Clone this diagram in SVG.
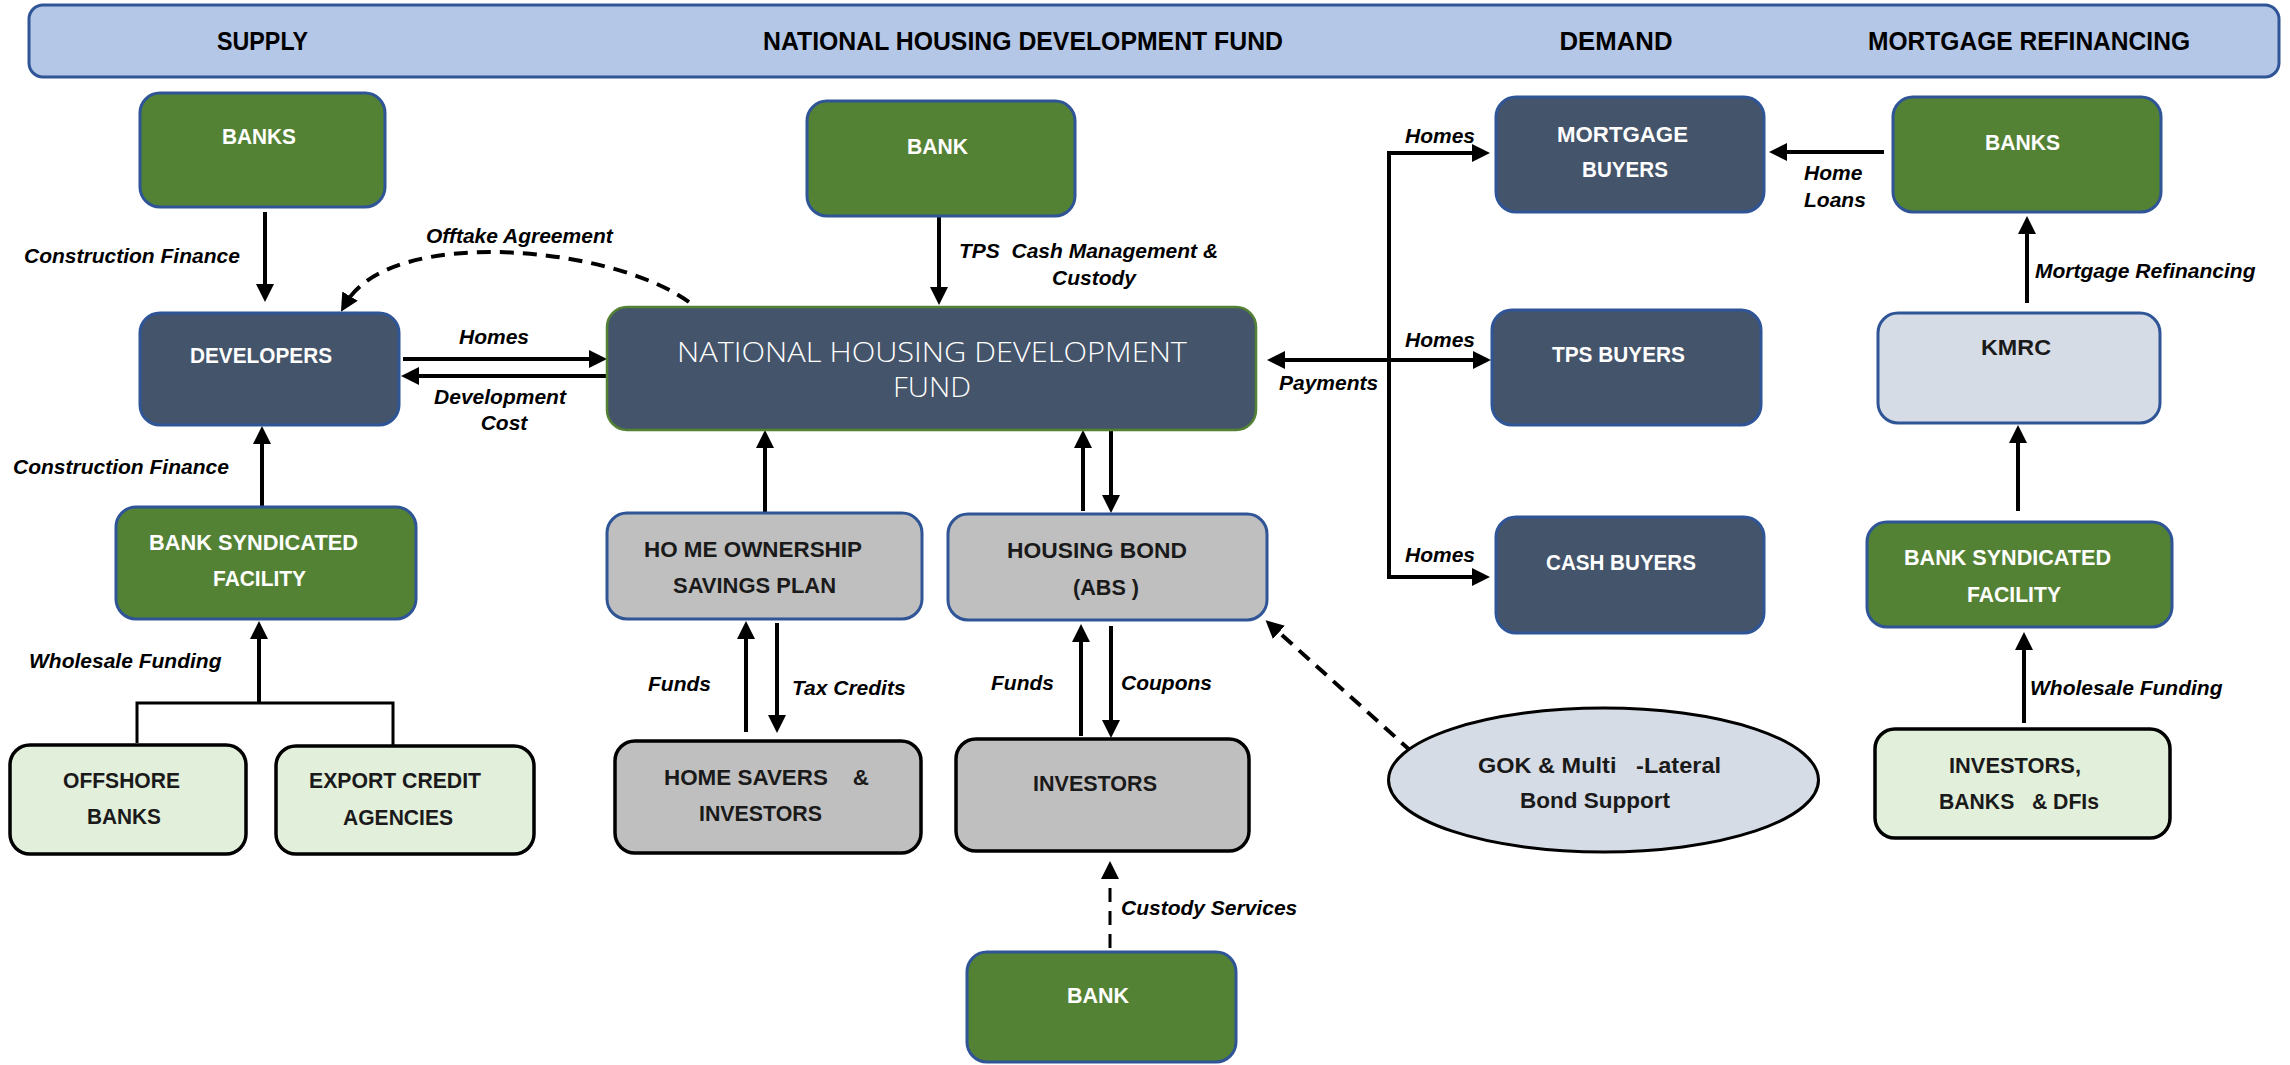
<svg xmlns="http://www.w3.org/2000/svg" width="2290" height="1065" viewBox="0 0 2290 1065">
  <defs>
    <style>
      .green { fill: #548235; stroke: #2F5597; stroke-width: 3; }
      .slate { fill: #44546A; stroke: #2F5597; stroke-width: 3; }
      .grey  { fill: #BFBFBF; stroke: #2F5597; stroke-width: 3; }
      .greyk { fill: #BFBFBF; stroke: #000; stroke-width: 3.5; }
      .mint  { fill: #E2EFDA; stroke: #000; stroke-width: 3.5; }
      .pale  { fill: #D6DCE5; stroke: #2F5597; stroke-width: 3; }
      .nt  { font-family: 'Liberation Sans', Arial, sans-serif; font-weight: 700; font-size: 22px; text-anchor: middle; white-space: pre; }
      .hd  { font-size: 25px; fill: #000; }
      .w   { fill: #FFFFFF; }
      .d   { fill: #1A1A1A; }
      .big { font-family: 'Open Sans', 'Liberation Sans', sans-serif; font-weight: 300; font-size: 28px; fill: #FFFFFF; text-anchor: middle; }
      .lbl { font-family: 'Liberation Sans', Arial, sans-serif; font-weight: 700; font-style: italic; font-size: 21px; fill: #000; white-space: pre; }
      .cn  { fill: none; stroke: #000; stroke-width: 4; }
      .thin { stroke-width: 3; }
      .dash { stroke-dasharray: 14 9; }
    </style>
    <marker id="ah" markerUnits="userSpaceOnUse" markerWidth="20" markerHeight="20" refX="8" refY="9" orient="auto-start-reverse">
      <path d="M0,0 L18,9 L0,18 Z" fill="#000"/>
    </marker>
  </defs>

  <!-- column header band -->
  <g id="header">
    <rect x="29" y="5" width="2250" height="72" rx="14" fill="#B4C7E7" stroke="#2F5597" stroke-width="3"/>
    <text class="nt hd" x="262.5" y="50" textLength="91" lengthAdjust="spacingAndGlyphs">SUPPLY</text>
    <text class="nt hd" x="1023" y="50" textLength="520" lengthAdjust="spacingAndGlyphs">NATIONAL HOUSING DEVELOPMENT FUND</text>
    <text class="nt hd" x="1616" y="50" textLength="113" lengthAdjust="spacingAndGlyphs">DEMAND</text>
    <text class="nt hd" x="2029" y="50" textLength="322" lengthAdjust="spacingAndGlyphs">MORTGAGE REFINANCING</text>
  </g>

  <!-- connectors -->
  <g id="connectors">
    <!-- supply side -->
    <path class="cn" d="M265,212 V292" marker-end="url(#ah)"/>
    <path class="cn" d="M262,507 V436" marker-end="url(#ah)"/>
    <path class="cn thin" d="M137,743 V703 H393 V745"/>
    <path class="cn" d="M259,703 V631" marker-end="url(#ah)"/>
    <path class="cn" d="M403,359 H597" marker-end="url(#ah)"/>
    <path class="cn" d="M607,376 H411" marker-end="url(#ah)"/>
    <path class="cn dash" d="M689,302 C610,245 391,226 346,303" marker-end="url(#ah)"/>
    <!-- fund -->
    <path class="cn" d="M939,216 V295" marker-end="url(#ah)"/>
    <path class="cn" d="M765,513 V440" marker-end="url(#ah)"/>
    <path class="cn" d="M1083,511 V440" marker-end="url(#ah)"/>
    <path class="cn" d="M1111,430 V503" marker-end="url(#ah)"/>
    <path class="cn" d="M746,732 V631" marker-end="url(#ah)"/>
    <path class="cn" d="M777,623 V723" marker-end="url(#ah)"/>
    <path class="cn" d="M1081,736 V634" marker-end="url(#ah)"/>
    <path class="cn" d="M1111,626 V728" marker-end="url(#ah)"/>
    <path class="cn thin dash" d="M1110,948 V871" marker-end="url(#ah)"/>
    <path class="cn dash" d="M1412,752 L1273,627" marker-end="url(#ah)"/>
    <!-- demand -->
    <path class="cn" d="M1277,360 H1481" marker-start="url(#ah)" marker-end="url(#ah)"/>
    <path class="cn" d="M1389,153 V577"/>
    <path class="cn" d="M1387,153 H1480" marker-end="url(#ah)"/>
    <path class="cn" d="M1387,577 H1480" marker-end="url(#ah)"/>
    <!-- mortgage refinancing -->
    <path class="cn" d="M1884,152 H1779" marker-end="url(#ah)"/>
    <path class="cn" d="M2027,303 V226" marker-end="url(#ah)"/>
    <path class="cn" d="M2018,511 V435" marker-end="url(#ah)"/>
    <path class="cn" d="M2024,723 V642" marker-end="url(#ah)"/>

    <!-- connector labels -->
    <text class="lbl" x="24" y="263">Construction Finance</text>
    <text class="lbl" x="426" y="243">Offtake Agreement</text>
    <text class="lbl" x="459" y="344">Homes</text>
    <text class="lbl" x="500" y="404" text-anchor="middle">Development</text>
    <text class="lbl" x="504" y="430" text-anchor="middle">Cost</text>
    <text class="lbl" x="13" y="474">Construction Finance</text>
    <text class="lbl" x="29" y="668">Wholesale Funding</text>
    <text class="lbl" x="959" y="258">TPS  Cash Management &amp;</text>
    <text class="lbl" x="1052" y="285">Custody</text>
    <text class="lbl" x="1279" y="390">Payments</text>
    <text class="lbl" x="1405" y="143">Homes</text>
    <text class="lbl" x="1405" y="347">Homes</text>
    <text class="lbl" x="1405" y="562">Homes</text>
    <text class="lbl" x="1804" y="180">Home</text>
    <text class="lbl" x="1804" y="207">Loans</text>
    <text class="lbl" x="2035" y="278">Mortgage Refinancing</text>
    <text class="lbl" x="648" y="691">Funds</text>
    <text class="lbl" x="792" y="695">Tax Credits</text>
    <text class="lbl" x="991" y="690">Funds</text>
    <text class="lbl" x="1121" y="690">Coupons</text>
    <text class="lbl" x="1121" y="915">Custody Services</text>
    <text class="lbl" x="2030" y="695">Wholesale Funding</text>
  </g>

  <!-- supply -->
  <g id="banks-supply">
    <rect class="green" x="140" y="93" width="245" height="114" rx="20"/>
    <text class="nt w" x="259" y="144" textLength="74" lengthAdjust="spacingAndGlyphs">BANKS</text>
  </g>
  <g id="developers">
    <rect class="slate" x="140" y="313" width="259" height="112" rx="20"/>
    <text class="nt w" x="261" y="363" textLength="142" lengthAdjust="spacingAndGlyphs">DEVELOPERS</text>
  </g>
  <g id="bank-syndicated-supply">
    <rect class="green" x="116" y="507" width="300" height="112" rx="20"/>
    <text class="nt w" x="253.5" y="550" textLength="209" lengthAdjust="spacingAndGlyphs">BANK SYNDICATED</text>
    <text class="nt w" x="259.5" y="586" textLength="93" lengthAdjust="spacingAndGlyphs">FACILITY</text>
  </g>
  <g id="offshore-banks">
    <rect class="mint" x="10" y="745" width="236" height="109" rx="20"/>
    <text class="nt d" x="121.5" y="788" textLength="117" lengthAdjust="spacingAndGlyphs">OFFSHORE</text>
    <text class="nt d" x="124" y="824" textLength="74" lengthAdjust="spacingAndGlyphs">BANKS</text>
  </g>
  <g id="export-credit">
    <rect class="mint" x="276" y="746" width="258" height="108" rx="20"/>
    <text class="nt d" x="395" y="788" textLength="172" lengthAdjust="spacingAndGlyphs">EXPORT CREDIT</text>
    <text class="nt d" x="398" y="825" textLength="110" lengthAdjust="spacingAndGlyphs">AGENCIES</text>
  </g>

  <!-- fund -->
  <g id="bank-custodian">
    <rect class="green" x="807" y="101" width="268" height="115" rx="20"/>
    <text class="nt w" x="937.5" y="154" textLength="61" lengthAdjust="spacingAndGlyphs">BANK</text>
  </g>
  <g id="nhdf">
    <rect x="607" y="307" width="649" height="123" rx="20" fill="#44546A" stroke="#548235" stroke-width="2.5"/>
    <text class="big" x="932" y="362" textLength="510" lengthAdjust="spacingAndGlyphs">NATIONAL HOUSING DEVELOPMENT</text>
    <text class="big" x="932" y="397" textLength="78" lengthAdjust="spacingAndGlyphs">FUND</text>
  </g>
  <g id="savings-plan">
    <rect class="grey" x="607" y="513" width="315" height="106" rx="20"/>
    <text class="nt d" x="753" y="557" textLength="218" lengthAdjust="spacingAndGlyphs">HO ME OWNERSHIP</text>
    <text class="nt d" x="754.5" y="593" textLength="163" lengthAdjust="spacingAndGlyphs">SAVINGS PLAN</text>
  </g>
  <g id="housing-bond">
    <rect class="grey" x="948" y="514" width="319" height="106" rx="20"/>
    <text class="nt d" x="1097" y="558" textLength="180" lengthAdjust="spacingAndGlyphs">HOUSING BOND</text>
    <text class="nt d" x="1106" y="595" textLength="66" lengthAdjust="spacingAndGlyphs">(ABS )</text>
  </g>
  <g id="home-savers">
    <rect class="greyk" x="615" y="741" width="306" height="112" rx="20"/>
    <text class="nt d" x="766.5" y="785" textLength="205" lengthAdjust="spacingAndGlyphs">HOME SAVERS    &amp;</text>
    <text class="nt d" x="760.5" y="821" textLength="123" lengthAdjust="spacingAndGlyphs">INVESTORS</text>
  </g>
  <g id="investors">
    <rect class="greyk" x="956" y="739" width="293" height="112" rx="20"/>
    <text class="nt d" x="1095" y="791" textLength="124" lengthAdjust="spacingAndGlyphs">INVESTORS</text>
  </g>
  <g id="bank-custody">
    <rect class="green" x="967" y="952" width="269" height="110" rx="20"/>
    <text class="nt w" x="1098" y="1003" textLength="62" lengthAdjust="spacingAndGlyphs">BANK</text>
  </g>
  <g id="gok-support">
    <ellipse cx="1603.5" cy="780" rx="215" ry="72" fill="#D6DCE5" stroke="#000" stroke-width="3"/>
    <text class="nt d" x="1599.5" y="773" textLength="243" lengthAdjust="spacingAndGlyphs">GOK &amp; Multi   -Lateral</text>
    <text class="nt d" x="1595" y="808" textLength="150" lengthAdjust="spacingAndGlyphs">Bond Support</text>
  </g>

  <!-- demand -->
  <g id="mortgage-buyers">
    <rect class="slate" x="1496" y="97" width="268" height="115" rx="20"/>
    <text class="nt w" x="1622.5" y="142" textLength="131" lengthAdjust="spacingAndGlyphs">MORTGAGE</text>
    <text class="nt w" x="1625" y="177" textLength="86" lengthAdjust="spacingAndGlyphs">BUYERS</text>
  </g>
  <g id="tps-buyers">
    <rect class="slate" x="1492" y="310" width="269" height="115" rx="20"/>
    <text class="nt w" x="1618.5" y="362" textLength="133" lengthAdjust="spacingAndGlyphs">TPS BUYERS</text>
  </g>
  <g id="cash-buyers">
    <rect class="slate" x="1496" y="517" width="268" height="116" rx="20"/>
    <text class="nt w" x="1621" y="570" textLength="150" lengthAdjust="spacingAndGlyphs">CASH BUYERS</text>
  </g>

  <!-- mortgage refinancing -->
  <g id="banks-lending">
    <rect class="green" x="1893" y="97" width="268" height="115" rx="20"/>
    <text class="nt w" x="2022.5" y="150" textLength="75" lengthAdjust="spacingAndGlyphs">BANKS</text>
  </g>
  <g id="kmrc">
    <rect class="pale" x="1878" y="313" width="282" height="110" rx="20"/>
    <text class="nt d" x="2016" y="355" textLength="70" lengthAdjust="spacingAndGlyphs">KMRC</text>
  </g>
  <g id="bank-syndicated-refi">
    <rect class="green" x="1867" y="522" width="305" height="105" rx="20"/>
    <text class="nt w" x="2007.5" y="565" textLength="207" lengthAdjust="spacingAndGlyphs">BANK SYNDICATED</text>
    <text class="nt w" x="2014" y="602" textLength="94" lengthAdjust="spacingAndGlyphs">FACILITY</text>
  </g>
  <g id="investors-banks-dfis">
    <rect class="mint" x="1875" y="729" width="295" height="109" rx="20"/>
    <text class="nt d" x="2015" y="773" textLength="132" lengthAdjust="spacingAndGlyphs">INVESTORS,</text>
    <text class="nt d" x="2019" y="809" textLength="160" lengthAdjust="spacingAndGlyphs">BANKS   &amp; DFIs</text>
  </g>
</svg>
